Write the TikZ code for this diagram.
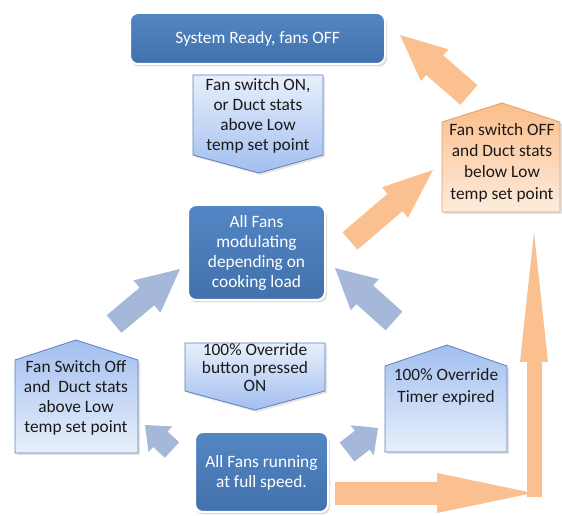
\documentclass[tikz,border=0pt]{standalone}
\usepackage{fontspec}
\setmainfont{Carlito}
\usetikzlibrary{calc}
\definecolor{boxtop}{HTML}{5386C4}
\definecolor{boxbot}{HTML}{4271AC}
\definecolor{callblueA}{HTML}{A2BFEF}
\definecolor{callblueB}{HTML}{E8EFFB}
\definecolor{callborder}{HTML}{5B82BA}
\definecolor{orangeA}{HTML}{FBBD88}
\definecolor{orangeB}{HTML}{FDECDE}
\definecolor{orangeborder}{HTML}{DFA06C}
\definecolor{arroworange}{HTML}{FAC090}
\definecolor{arrowblue}{HTML}{A5B8D9}
\newcommand{\blkarrow}[6]{%
  \coordinate (hb) at ($(#3)!#6!(#2)$);
  \fill[#1] ($(#2)!#4!90:(#3)$) -- ($(hb)!#4!90:(#3)$) -- ($(hb)!#5!90:(#3)$) -- (#3)
    -- ($(hb)!#5!-90:(#3)$) -- ($(hb)!#4!-90:(#3)$) -- ($(#2)!#4!-90:(#3)$) -- cycle;}
\begin{document}
\begin{tikzpicture}[x=0.75pt,y=-0.75pt,
  txt/.style={font=\fontsize{13}{15}\selectfont, align=center, inner sep=0pt, text=black!90},
  wtxt/.style={txt, text=white},
  bluebox/.style={top color=boxtop, bottom color=boxbot, draw=white, line width=1.5pt, rounded corners=6pt},
  boxshadow/.style={fill=black!30, opacity=0.45, rounded corners=6pt},
  downcall/.style={top color=callblueB, bottom color=callblueA, draw=callborder, line width=0.6pt},
  upcall/.style={top color=callblueA, bottom color=callblueB, draw=callborder, line width=0.6pt},
  orcall/.style={top color=orangeA, bottom color=orangeB, draw=orangeborder, line width=0.6pt},
  callshadow/.style={fill=black!30, opacity=0.35},
  orarrow/.style={fill=arroworange},
  blarrow/.style={fill=arrowblue}]
\useasboundingbox (0,0) rectangle (562,516);

% ---- main boxes
\fill[boxshadow] (131,15.5) rectangle (387,66.5);
\draw[bluebox] (130,13) rectangle (385,64);
\node[wtxt] (ready) at (257.5,39) {System Ready, fans OFF};

\fill[boxshadow] (189,207.5) rectangle (327,302.5);
\draw[bluebox] (188,205) rectangle (325,300);
\node[wtxt] (mod) at (256.5,253) {All Fans\\modulating\\depending on\\cooking load};

\fill[boxshadow] (196,434.5) rectangle (330,514.5);
\draw[bluebox] (195,432) rectangle (328,512);
\node[wtxt] (full) at (261.5,473) {All Fans running\\at full speed.};

% ---- callouts
\fill[callshadow] (195,77) -- (325,77) -- (325,157) -- (261,175) -- (195,157) -- cycle;
\draw[downcall] (193,75) -- (323,75) -- (323,155) -- (259,173) -- (193,155) -- cycle;
\node[txt] (c1) at (258,115.5) {Fan switch ON,\\or Duct stats\\above Low\\temp set point};

\fill[callshadow] (187,345) -- (327,345) -- (327,393) -- (257,412) -- (187,393) -- cycle;
\draw[downcall] (185,343) -- (325,343) -- (325,391) -- (255,410) -- (185,391) -- cycle;
\node[txt, font=\fontsize{13}{13.5}\selectfont] (ovr) at (255,367.5) {100\% Override\\button pressed\\ON};

\fill[callshadow] (17,362) -- (78,342) -- (140,362) -- (140,455) -- (17,455) -- cycle;
\draw[upcall] (15,360) -- (76,340) -- (138,360) -- (138,453) -- (15,453) -- cycle;
\node[txt] (leftc) at (76,398) {Fan Switch Off\\and~ Duct stats\\above Low\\temp set point};

\fill[callshadow] (387,368) -- (449,347) -- (509,368) -- (509,454) -- (387,454) -- cycle;
\draw[upcall] (385,366) -- (447,345) -- (507,366) -- (507,452) -- (385,452) -- cycle;
\node[txt, font=\fontsize{13}{16.5}\selectfont] (timer) at (446,386.5) {100\% Override\\Timer expired};

\fill[callshadow] (444,124) -- (504,105) -- (562,124) -- (562,214) -- (444,214) -- cycle;
\draw[orcall] (442,122) -- (502,103) -- (560,122) -- (560,212) -- (442,212) -- cycle;
\node[txt, font=\fontsize{13}{16}\selectfont] (orng) at (502,162.5) {Fan switch OFF\\and Duct stats\\below Low\\temp set point};

% ---- orange arrows
\coordinate (a1t) at (469,95);  \coordinate (a1h) at (400,35);
\blkarrow{orarrow}{a1t}{a1h}{9.75pt}{15.75pt}{34.5pt}
\coordinate (a2t) at (350,241); \coordinate (a2h) at (433,170);
\blkarrow{orarrow}{a2t}{a2h}{8.6pt}{15pt}{37.5pt}

\coordinate (hs) at (335,493.5); \coordinate (hc) at (533,493);
\fill[orarrow] (hs) ++(0,-11.5) -- (437,482) -- (437,473) -- (hc) -- (437,513) -- (437,505) -- (335,505) -- cycle;
\coordinate (vt) at (534,232);
\fill[orarrow] (527,497) -- (527,362) -- (520,362) -- (vt) -- (548,362) -- (542,362) -- (542,497) -- cycle;

% ---- blue arrows
\coordinate (b1t) at (114,324); \coordinate (b1h) at (180,269);
\blkarrow{blarrow}{b1t}{b1h}{8.6pt}{15.75pt}{32.25pt}
\coordinate (b2t) at (394,321); \coordinate (b2h) at (335,268);
\blkarrow{blarrow}{b2t}{b2h}{9.4pt}{15.75pt}{30pt}
\coordinate (b3t) at (172,450); \coordinate (b3h) at (145,425);
\blkarrow{blarrow}{b3t}{b3h}{7.9pt}{13.1pt}{15.75pt}
\coordinate (b4t) at (347,452); \coordinate (b4h) at (378,428);
\blkarrow{blarrow}{b4t}{b4h}{9pt}{14.25pt}{15pt}
\end{tikzpicture}
\end{document}
